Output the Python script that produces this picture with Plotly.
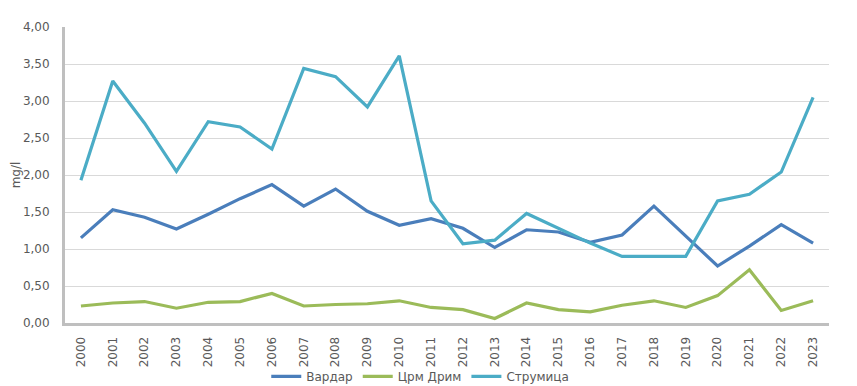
import plotly.graph_objects as go

years = [str(y) for y in range(2000, 2024)]
vardar = [1.15, 1.53, 1.43, 1.27, 1.47, 1.68, 1.87, 1.58, 1.81, 1.51, 1.32, 1.41,
          1.28, 1.02, 1.26, 1.23, 1.09, 1.19, 1.58, 1.18, 0.77, 1.04, 1.33, 1.08]
crm_drim = [0.23, 0.27, 0.29, 0.20, 0.28, 0.29, 0.40, 0.23, 0.25, 0.26, 0.30, 0.21,
            0.18, 0.06, 0.27, 0.18, 0.15, 0.24, 0.30, 0.21, 0.37, 0.72, 0.17, 0.30]
strumica = [1.93, 3.27, 2.70, 2.05, 2.72, 2.65, 2.35, 3.44, 3.33, 2.92, 3.61, 1.65,
            1.07, 1.12, 1.48, 1.28, 1.08, 0.90, 0.90, 0.90, 1.65, 1.74, 2.04, 3.05]
series_names = ["Вардар", "Црм Дрим", "Струмица"]
colors = ["#4A7EBB", "#9BBB59", "#4BACC6"]

fig = go.Figure()
for name, vals, col in zip(series_names, [vardar, crm_drim, strumica], colors):
    fig.add_trace(go.Scatter(x=years, y=vals, name=name, mode="lines",
                             line=dict(color=col, width=3.2)))

font_family = "DejaVu Sans, Liberation Sans, Arial, sans-serif"
fig.update_layout(
    width=857, height=386,
    margin=dict(l=65, r=28, t=27, b=63, autoexpand=False),
    plot_bgcolor="white", paper_bgcolor="white",
    separators=", ",
    font=dict(family=font_family, size=12, color="#595959"),
    showlegend=True,
    legend=dict(orientation="h", x=0.465, xanchor="center", y=-0.18, yanchor="middle",
                bgcolor="rgba(0,0,0,0)",
                font=dict(size=12, color="#595959"), itemwidth=30, tracegroupgap=0),
    xaxis=dict(type="category", tickangle=-90, showgrid=False,
               showline=True, linecolor="#BFBFBF", linewidth=3,
               ticks="", tickfont=dict(size=12, color="#595959"),
               ticklabelstandoff=6,
               range=[-0.5, len(years) - 0.5]),
    yaxis=dict(range=[0, 4], dtick=0.5, tickformat=".2f", showgrid=True,
               gridcolor="#D9D9D9", gridwidth=1,
               showline=True, linecolor="#BFBFBF", linewidth=3,
               zeroline=False, ticks="", tickfont=dict(size=12, color="#595959"),
               ticklabelstandoff=10,
               title=dict(text="mg/l", font=dict(size=12, color="#595959"), standoff=0)),
)
fig.write_html("out.html", config={"displayModeBar": False},
               post_script="document.body.style.margin='0';document.body.style.padding='0';")
